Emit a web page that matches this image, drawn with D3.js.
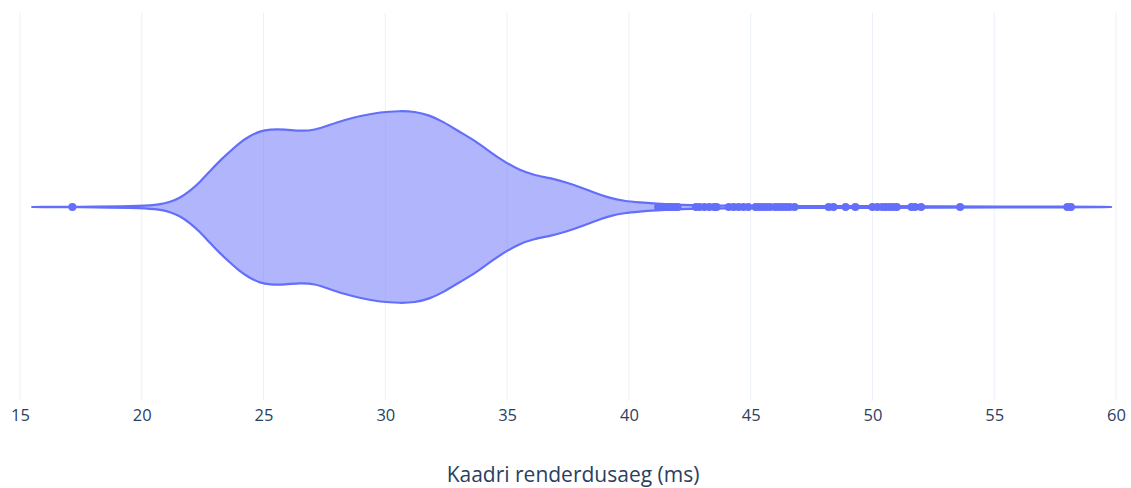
<!DOCTYPE html>
<html>
<head>
<meta charset="utf-8">
<script src="https://cdn.jsdelivr.net/npm/d3@7"></script>
<style>
  body { margin: 0; background: #fff; }
  text { font-family: "Open Sans", sans-serif; }
</style>
</head>
<body>
<div id="chart"></div>
<script>
// violin outline: frame time (ms) and relative density
const densityX = [15.5, 18.3, 20.0, 20.75, 21.16, 21.57, 21.98, 22.39, 22.8, 23.2, 23.6, 24.0,
  24.44, 24.85, 25.26, 25.88, 26.5, 27.1, 27.7, 28.3, 28.96, 29.8, 30.6, 31.2, 31.8, 32.4,
  33.0, 33.7, 34.3, 34.9, 35.5, 36.1, 36.76, 37.4, 37.99, 38.6, 39.2, 39.8, 40.45, 41.07,
  42.1, 43.7, 47.0, 51.1, 52.8, 55.2, 57.7, 59.8]
const densityY = [0, 0.003, 0.01, 0.026, 0.052, 0.094, 0.167, 0.26, 0.375, 0.48, 0.573, 0.667,
  0.74, 0.79, 0.81, 0.81, 0.79, 0.80, 0.854, 0.906, 0.948, 0.99, 1.0, 0.995, 0.958, 0.885,
  0.79, 0.688, 0.573, 0.47, 0.385, 0.333, 0.302, 0.26, 0.208, 0.146, 0.094, 0.062, 0.047, 0.036,
  0.021, 0.0125, 0.0104, 0.0083, 0.0062, 0.003, 0.005, 0]

// outlier frames (ms)
const outliers = [17.15,
  41.2, 41.35, 41.5, 41.6, 41.75, 41.9, 42.0,
  42.75, 42.9, 43.1, 43.3, 43.5, 43.6,
  44.1, 44.3, 44.5, 44.7, 44.9,
  45.2, 45.35, 45.5, 45.65, 45.8, 46.0, 46.15, 46.3, 46.45, 46.6, 46.8,
  48.2, 48.4, 48.9, 49.3,
  50.0, 50.2, 50.4, 50.55, 50.7, 50.85, 51.0,
  51.6, 51.75, 52.0,
  53.6, 58.0, 58.15]

const xTicks = [15, 20, 25, 30, 35, 40, 45, 50, 55, 60]
const xTitle = "Kaadri renderdusaeg (ms)"

const width = 1131
const height = 488
const margin = {top: 13, right: 15, bottom: 88, left: 20}
const mid = 207

const xscale = d3.scaleLinear()
  .domain([15, 60])
  .range([margin.left, width - margin.right])

// density -> half width in pixels
const wscale = d3.scaleLinear()
  .domain([0, 1])
  .range([0, 96])

const svg = d3.select("#chart").append("svg")
  .attr("width", width)
  .attr("height", height)

// grid
svg.append("g")
  .selectAll("line")
  .data(xTicks)
  .join("line")
  .attr("x1", d => xscale(d))
  .attr("x2", d => xscale(d))
  .attr("y1", margin.top)
  .attr("y2", height - margin.bottom)
  .attr("stroke", "#ebf0f8")
  .attr("stroke-width", 1)

// x axis labels, no line and no ticks
const xAxis = g => g
  .attr("transform", `translate(0, ${height - margin.bottom})`)
  .call(d3.axisBottom(xscale).tickValues(xTicks).tickSize(0).tickPadding(9))
  .call(g => g.select(".domain").remove())
  .call(g => g.selectAll("text")
    .attr("fill", "#2a3f5f")
    .attr("font-size", 16.5)
    .attr("font-family", "'Open Sans', sans-serif"))

svg.append("g").call(xAxis)

svg.append("text")
  .attr("x", 573)
  .attr("y", 482)
  .attr("text-anchor", "middle")
  .attr("fill", "#2a3f5f")
  .attr("font-size", 21)
  .text(xTitle)

// violin
const violinData = densityX.map((x, i) => ({x: x, d: densityY[i]}))

const area = d3.area()
  .curve(d3.curveBasis)
  .x(d => xscale(d.x))
  .y0(d => mid + wscale(d.d))
  .y1(d => mid - wscale(d.d))

svg.append("path")
  .datum(violinData)
  .attr("d", area)
  .attr("fill", "#636efa")
  .attr("fill-opacity", 0.5)
  .attr("stroke", "#636efa")
  .attr("stroke-width", 2.2)
  .attr("stroke-linejoin", "round")

// outlier points
svg.append("g")
  .attr("fill", "#636efa")
  .selectAll("circle")
  .data(outliers)
  .join("circle")
  .attr("cx", d => xscale(d))
  .attr("cy", mid)
  .attr("r", 4)
</script>
</body>
</html>
